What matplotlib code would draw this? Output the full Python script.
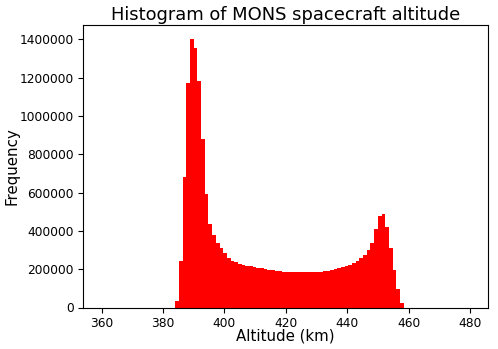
import matplotlib
matplotlib.use('agg')
import matplotlib.pyplot as plt
import numpy as np

# histogram over 360-480 km, 100 bins; counts (bins 20..81)
range_km = (360, 480)
n_bins = 100
first_bin = 20
counts = [36000, 245000, 682000, 1170000, 1403000, 1355000, 1181000, 880000,
          593000, 438000, 376000, 339000, 311000, 285000, 261000, 245000,
          235000, 228000, 223000, 219000, 216000, 212000, 208000, 205000,
          201000, 198000, 195000, 192000, 189000, 187000, 186000, 185000,
          184500, 184500, 184500, 184500, 184500, 184500, 185500, 187000,
          189000, 192000, 196000, 200000, 205000, 210000, 215000, 222000,
          230000, 241000, 256000, 275000, 299000, 339000, 409000, 478000,
          490000, 419000, 310000, 198000, 96000, 23000]

edges = np.linspace(range_km[0], range_km[1], n_bins + 1)
weights = np.zeros(n_bins)
weights[first_bin:first_bin + len(counts)] = counts
centers = (edges[:-1] + edges[1:]) / 2

fig = plt.figure(figsize=(4.98, 3.49), dpi=100)
ax = fig.add_axes([83.3 / 498, 1 - 307.5 / 349, 405 / 498, 282.2 / 349])
ax.hist(centers, bins=edges, weights=weights, color='red')
ax.set_title('Histogram of MONS spacecraft altitude', fontsize=12.9, pad=3.5)
ax.set_xlabel('Altitude (km)', fontsize=10.8)
ax.set_ylabel('Frequency', fontsize=10.8)
ax.xaxis.set_label_coords(0.5, -0.075)
ax.yaxis.set_label_coords(-0.157, 0.5)
ax.tick_params(labelsize=8.8)
ax.ticklabel_format(axis='y', style='plain')
fig.savefig('out.png', dpi=100)
